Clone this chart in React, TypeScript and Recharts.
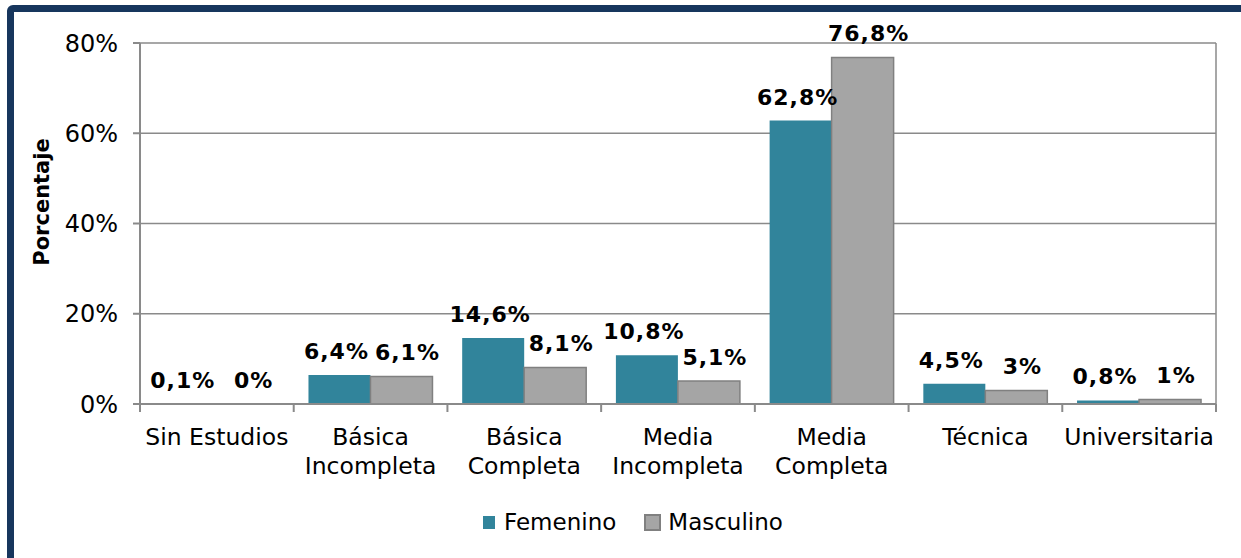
import React from 'react'
import { BarChart, Bar, XAxis, YAxis, CartesianGrid, LabelList } from 'recharts'

const categories = [
  'Sin Estudios',
  'Básica\nIncompleta',
  'Básica\nCompleta',
  'Media\nIncompleta',
  'Media\nCompleta',
  'Técnica',
  'Universitaria',
]
const femenino = [0.1, 6.4, 14.6, 10.8, 62.8, 4.5, 0.8]
const masculino = [0, 6.1, 8.1, 5.1, 76.8, 3, 1]
const yTicks = [0, 20, 40, 60, 80]

const data = categories.map((name, i) => ({ name, femenino: femenino[i], masculino: masculino[i] }))

const W = 1241
const H = 558
const M = { top: 43, right: 25, bottom: 74, left: 80 }
const YW = 60
const XH = 80
const FONT = 'DejaVu Sans, Verdana, sans-serif'
const TEAL = '#31849B'
const GRAY = '#A5A5A5'
const AXIS = '#8a8a8a'
const NAVY = '#17365D'

const band = (W - M.left - YW - M.right) / categories.length

const fmt = (v: any) => `${String(v).replace('.', ',')}%`
const labelStyle = { fontFamily: FONT, fontSize: 22, fontWeight: 'bold', fill: '#000', letterSpacing: 1 }

function CatTick(props: any) {
  const { x, y, payload, index } = props
  const lines = String(payload.value).split('\n')
  return (
    <g>
      <line x1={x - band / 2} x2={x - band / 2} y1={y} y2={y + 8} stroke={AXIS} strokeWidth={2} />
      {index === categories.length - 1 && (
        <line x1={x + band / 2} x2={x + band / 2} y1={y} y2={y + 8} stroke={AXIS} strokeWidth={2} />
      )}
      <text x={x} y={y} textAnchor="middle" fontFamily={FONT} fontSize={23.5} fill="#000">
        {lines.map((l, i) => (
          <tspan key={i} x={x} dy={i === 0 ? 41 : 29}>{l}</tspan>
        ))}
      </text>
    </g>
  )
}

export default function App() {
  return (
    <div style={{ position: 'fixed', left: 0, top: 0, width: W, height: H, background: '#fff', overflow: 'hidden' }}>
      <div
        style={{
          position: 'absolute', left: 7, top: 5, width: 1300, height: 700,
          border: `7px solid ${NAVY}`, borderRadius: 6, boxSizing: 'border-box',
        }}
      />
      <div style={{ position: 'absolute', left: 0, top: 0 }}>
        <BarChart width={W} height={H} data={data} margin={M} barCategoryGap="9.6%" barGap={0}>
          <CartesianGrid
            stroke={AXIS}
            strokeWidth={1.5}
            verticalCoordinatesGenerator={(p: any) => [p.offset.left + p.offset.width]}
          />
          <XAxis
            dataKey="name"
            height={XH}
            interval={0}
            tickLine={false}
            tickSize={0}
            tickMargin={0}
            stroke={AXIS}
            strokeWidth={2}
            tick={<CatTick />}
          />
          <YAxis
            width={YW}
            domain={[0, 80]}
            ticks={yTicks}
            tickFormatter={(v) => `${v}%`}
            tickSize={7}
            tickMargin={15}
            stroke={AXIS}
            strokeWidth={2}
            tick={{ fontFamily: FONT, fontSize: 24, fill: '#000' }}
          />
          <Bar dataKey="femenino" fill={TEAL} minPointSize={0.01} isAnimationActive={false}>
            <LabelList dataKey="femenino" position="top" offset={16} dx={-3} formatter={fmt} style={labelStyle} />
          </Bar>
          <Bar dataKey="masculino" fill={GRAY} stroke="#808080" strokeWidth={1.5} minPointSize={0.01} isAnimationActive={false}>
            <LabelList dataKey="masculino" position="top" offset={16} dx={6} formatter={fmt} style={labelStyle} />
          </Bar>
        </BarChart>
      </div>
      <div
        style={{
          position: 'absolute', left: 42, top: 202, transform: 'translate(-50%, -50%) rotate(-90deg)',
          fontFamily: FONT, fontSize: 21, fontWeight: 'bold', whiteSpace: 'nowrap',
        }}
      >
        Porcentaje
      </div>
      <div
        style={{
          position: 'absolute', left: 483, top: 509, display: 'flex', alignItems: 'center',
          fontFamily: FONT, fontSize: 23, color: '#000',
        }}
      >
        <span style={{ display: 'inline-block', width: 12, height: 13, background: TEAL, marginRight: 9 }} />
        <span>Femenino</span>
        <span style={{ display: 'inline-block', width: 13, height: 13, background: GRAY, border: '2px solid #808080', marginLeft: 28, marginRight: 7 }} />
        <span>Masculino</span>
      </div>
    </div>
  )
}
